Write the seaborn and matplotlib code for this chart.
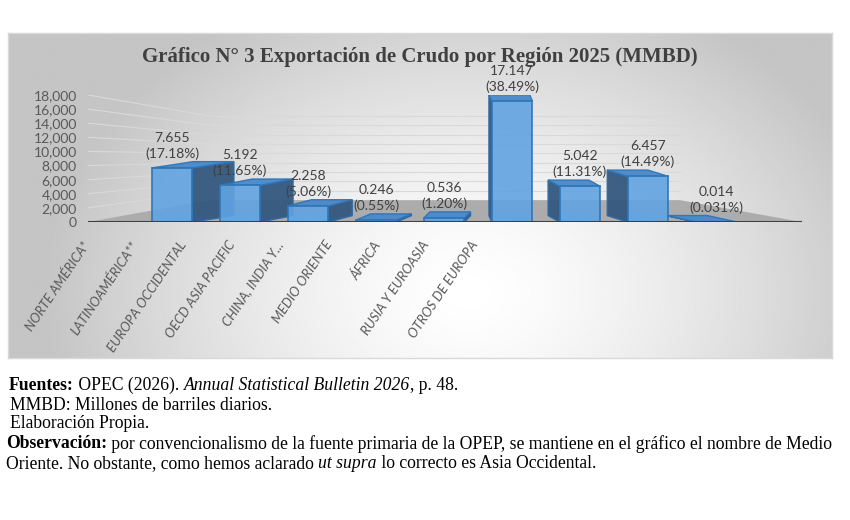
import numpy as np
import pandas as pd
import matplotlib
matplotlib.use("Agg")
import matplotlib.pyplot as plt
from matplotlib.patches import Polygon
import seaborn as sns

# ---------------- data ----------------
categories = ["NORTE AMÉRICA*", "LATINOAMÉRICA**", "EUROPA OCCIDENTAL",
              "OECD ASIA PACIFIC", "CHINA, INDIA Y...", "MEDIO ORIENTE",
              "ÁFRICA", "RUSIA Y EUROASIA", "OTROS DE EUROPA"]
values_mmbd = [7.655, 5.192, 2.258, 0.246, 0.536, 17.147, 5.042, 6.457, 0.014]
shares = ["17.18%", "11.65%", "5.06%", "0.55%", "1.20%", "38.49%",
          "11.31%", "14.49%", "0.031%"]
y_ticks = [0, 2000, 4000, 6000, 8000, 10000, 12000, 14000, 16000, 18000]

title = "Gráfico N° 3 Exportación de Crudo por Región 2025 (MMBD)"

# axis is in thousands of barrels per day (unit conversion of MMBD)
axis_values = [v * 1000 for v in values_mmbd]
df = pd.DataFrame({"region": categories, "valor": axis_values})

# ---------------- style ----------------
sns.set_style("white")
plt.rcParams["font.family"] = ["Lato", "DejaVu Sans"]

W, H = 850, 520
fig = plt.figure(figsize=(W / 100, H / 100), dpi=100)
fig.patch.set_facecolor("white")


def rect(x0, y0, x1, y1):
    """pixel box (top-left origin) -> figure fraction rect"""
    return [x0 / W, 1 - y1 / H, (x1 - x0) / W, (y1 - y0) / H]


# ---------------- gradient chart area ----------------
bg = fig.add_axes(rect(8, 33, 832, 358), zorder=0)
gx, gy = np.meshgrid(np.linspace(0, 1, 400), np.linspace(0, 1, 200))
r = np.sqrt(((gx - 0.56) / 0.52) ** 2 + ((gy - 0.2) / 1.0) ** 2)
shade = 1 - 0.23 * np.clip(r, 0, 1) ** 1.4
bg.imshow(shade, cmap="gray", vmin=0, vmax=1, origin="lower",
          extent=[0, 1, 0, 1], aspect="auto", interpolation="bilinear")
bg.set_xticks([])
bg.set_yticks([])
for s in bg.spines.values():
    s.set_color("#d9d9d9")
    s.set_linewidth(1)

# ---------------- main axes ----------------
ax = fig.add_axes(rect(88, 95, 802, 222), zorder=2)
ax.set_facecolor("none")
sns.barplot(data=df, x="region", y="valor", ax=ax, color="#62A3E2",
            width=0.6, edgecolor="#2E75B6", linewidth=1.3, alpha=0.9,
            zorder=5, saturation=1)
x_lo, x_hi = -1.235, 9.265
ax.set_xlim(x_lo, x_hi)
ax.set_ylim(0, 18000)

# 3D-ish walls & floor
wall_l, wall_r, floor_back = 0.56, 7.47, 3100
wall_scale = 0.662
floor = Polygon([(x_lo, 0), (wall_l, floor_back), (wall_r, floor_back), (x_hi, 0)],
                closed=True, facecolor="#acacac", edgecolor="none", zorder=1)
ax.add_patch(floor)
for v in y_ticks[1:]:
    yb = floor_back + v * wall_scale
    ax.plot([x_lo, wall_l], [v, yb], color="#d9d9d9", lw=0.8, zorder=0.5)
    ax.plot([wall_l, wall_r], [yb, yb], color="#d9d9d9", lw=0.8, zorder=0.5)

# bar depth (side + top faces), derived from the bar patches
vanish, k, depth = 4.7, 0.13, 900
for i, p in enumerate(ax.patches):
    if not hasattr(p, "get_width"):
        continue
    x0, w, h = p.get_x(), p.get_width(), p.get_height()
    xc = x0 + w / 2
    dx = (vanish - xc) * k
    edge = x0 + w if dx > 0 else x0
    side = Polygon([(edge, 0), (edge, h), (edge + dx, h + depth), (edge + dx, depth)],
                   closed=True, facecolor="#34587F", edgecolor="#2E6BA8",
                   lw=1.0, alpha=0.95, zorder=3)
    top = Polygon([(x0, h), (x0 + w, h), (x0 + w + dx, h + depth), (x0 + dx, h + depth)],
                  closed=True, facecolor="#4A88C9", edgecolor="#2E75B6",
                  lw=1.0, alpha=0.95, zorder=4)
    ax.add_patch(side)
    ax.add_patch(top)

# data labels
for i, (v, s) in enumerate(zip(values_mmbd, shares)):
    ax.text(i, v * 1000 + depth + 250, f"{v:.3f}\n({s})", ha="center", va="bottom",
            fontsize=10, color="#404040", linespacing=1.35, zorder=6)

ax.axhline(0, color="#3f3f3f", lw=2.2, zorder=6)
ax.set_yticks(y_ticks)
ax.set_yticklabels([f"{t:,}" for t in y_ticks], fontsize=10, color="#595959")
ax.tick_params(axis="y", length=0, pad=8)
ax.set_xticks([])
ax.set_xlabel("")
ax.set_ylabel("")
for s in ax.spines.values():
    s.set_visible(False)

# category labels on the (projected) 3-D category axis
lab = fig.add_axes(rect(82, 238, 82 + 48.5 * 8, 239), zorder=3)
lab.set_facecolor("none")
lab.set_xlim(0, len(categories) - 1)
lab.set_xticks(range(len(categories)))
lab.set_xticklabels(categories, rotation=56, ha="right", va="top",
                    rotation_mode="anchor", fontsize=9.5, fontstyle="italic",
                    color="#595959")
lab.tick_params(axis="x", length=0, pad=0)
lab.set_yticks([])
for s in lab.spines.values():
    s.set_visible(False)

# title
fig.text(0.494, 1 - 57 / H, title, ha="center", va="center", fontsize=15,
         fontweight="bold", family=["Liberation Serif", "DejaVu Serif"],
         color="#404040", zorder=5)

# ---------------- footnotes ----------------
renderer = fig.canvas.get_renderer()
serif = ["Liberation Serif", "DejaVu Serif"]


def rich(xpx, ypx, parts, size=12.7):
    x = xpx / W
    for txt, weight, style in parts:
        t = fig.text(x, 1 - ypx / H, txt, ha="left", va="center", fontsize=size,
                     fontweight=weight, fontstyle=style, family=serif, color="black")
        bb = t.get_window_extent(renderer)
        x = bb.x1 / fig.bbox.width


rich(9, 385, [("Fuentes:", "bold", "normal"), (" OPEC (2026). ", "normal", "normal"),
              ("Annual Statistical Bulletin 2026", "normal", "italic"),
              (", p. 48.", "normal", "normal")])
rich(10, 405, [("MMBD: Millones de barriles diarios.", "normal", "normal")])
rich(10, 424, [("Elaboración Propia.", "normal", "normal")])
rich(6, 444, [("Observación:", "bold", "normal"),
              (" por convencionalismo de la fuente primaria de la OPEP, se mantiene en el gráfico el nombre de Medio",
               "normal", "normal")])
rich(6, 464, [("Oriente. No obstante, como hemos aclarado ", "normal", "normal"),
              ("ut supra", "normal", "italic"),
              (" lo correcto es Asia Occidental.", "normal", "normal")])

fig.savefig("out.png", dpi=100)
